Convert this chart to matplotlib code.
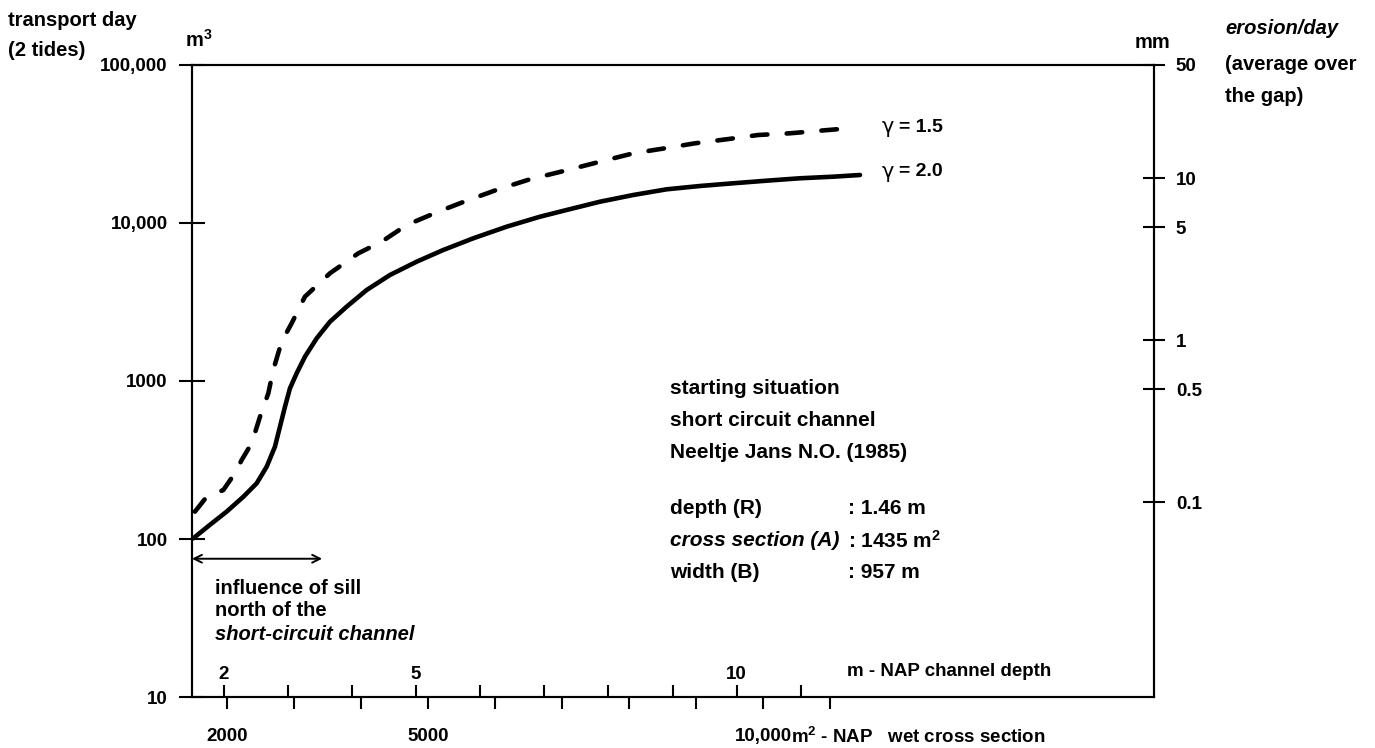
import matplotlib
matplotlib.use("Agg")
import matplotlib.pyplot as plt
from matplotlib.ticker import NullLocator

# ---------------- data ----------------
# wet cross section (m2 - NAP) and transport per day (m3, 2 tides)
area_gamma20 = [1497, 1746, 1995, 2244, 2443, 2593, 2716, 2791, 2866, 2940, 3040,
                3164, 3339, 3537, 3786, 4085, 4433, 4831, 5229, 5676, 6175, 6672,
                7070, 7567, 8064, 8562, 9060, 9557, 10055, 10552, 11049, 11448]
transport_gamma20 = [101, 123, 149, 185, 225, 287, 384, 514, 688, 899, 1119,
                     1426, 1862, 2372, 2953, 3767, 4688, 5690, 6750, 8000, 9480, 10960,
                     12090, 13640, 15040, 16340, 17150, 17840, 18530, 19190, 19640, 20130]

area_gamma15 = [1522, 1697, 1945, 2119, 2219, 2368, 2493, 2617, 2691, 2816, 2965,
                3164, 3537, 3960, 4309, 4682, 5154, 5578, 6049, 6522, 7045, 7567,
                8064, 8537, 8985, 9458, 9930, 10403, 10851, 11380]
transport_gamma15 = [149, 185, 204, 261, 316, 403, 594, 836, 1175, 1774, 2317,
                     3420, 4806, 6430, 7620, 9710, 11800, 13840, 16340, 18910, 21430, 24430,
                     27610, 29710, 31950, 33880, 36060, 36960, 38390, 40100]

left_ticks = [10, 100, 1000, 10000, 100000]
left_labels = ["10", "100", "1000", "10,000", "100,000"]
right_ticks = [0.1, 0.5, 1, 5, 10, 50]
right_labels = ["0.1", "0.5", "1", "5", "10", "50"]
area_ticks = [2000, 5000, 10000]
area_labels = ["2000", "5000", "10,000"]
area_minor = [3000, 4000, 6000, 7000, 8000, 9000, 11000]
depth_ticks = [2, 5, 10]
depth_labels = ["2", "5", "10"]
depth_minor = [3, 4, 6, 7, 8, 9, 11]

start_depth = 1.46    # m
start_area = 1435.0   # m2
channel_width = 957.0 # m

# ---------------- style ----------------
plt.rcParams["font.family"] = ["Liberation Sans", "DejaVu Sans"]
plt.rcParams["font.weight"] = "bold"
plt.rcParams["mathtext.fontset"] = "custom"
plt.rcParams["mathtext.rm"] = "Liberation Sans:bold"
plt.rcParams["mathtext.it"] = "Liberation Sans:italic:bold"
plt.rcParams["mathtext.bf"] = "Liberation Sans:bold"

W, H = 1375, 748
fig = plt.figure(figsize=(W / 100, H / 100), dpi=100)
L, R, T, B = 192, 1154, 65, 697
ax = fig.add_axes([L / W, 1 - B / H, (R - L) / W, (B - T) / H])


def P(x, y):
    return x / W, 1 - y / H


FS = 13.5
LW_SPINE = 1.5

ax.set_yscale("log")
ax.set_xlim(1478, 15836)
ax.set_ylim(10, 100000)

ax.plot(area_gamma20, transport_gamma20, color="black", lw=3.3,
        solid_capstyle="round", solid_joinstyle="round")
ax.plot(area_gamma15, transport_gamma15, color="black", lw=3.3,
        dashes=(3.4, 4.2), dash_capstyle="round", dash_joinstyle="round")

for s in ax.spines.values():
    s.set_linewidth(LW_SPINE)

# left axis
ax.set_yticks(left_ticks, labels=left_labels)
ax.yaxis.set_minor_locator(NullLocator())
ax.tick_params(axis="y", direction="inout", length=19, width=1.5, pad=8,
               labelsize=FS)

# bottom axis: wet cross section
ax.set_xticks(area_ticks, labels=area_labels)
ax.set_xticks(area_minor, minor=True)
ax.tick_params(axis="x", which="both", direction="out", length=8.5, width=1.5,
               pad=14, labelsize=FS)


# depth axis on the same line, ticks pointing inward, labels inside
def area_to_depth(a):
    return start_depth + (a - start_area) / channel_width


def depth_to_area(d):
    return start_area + (d - start_depth) * channel_width


sec = ax.secondary_xaxis("bottom", functions=(area_to_depth, depth_to_area))
sec.set_xticks(depth_ticks, labels=depth_labels)
sec.set_xticks(depth_minor, minor=True)
sec.tick_params(axis="x", which="both", direction="in", length=8.5, width=1.5,
                pad=-22, labelsize=FS)
sec.spines["bottom"].set_visible(False)

# right axis: erosion per day
ax2 = ax.twinx()
ax2.set_yscale("log")
ax2.set_ylim(0.00628, 50)
ax2.set_yticks(right_ticks, labels=right_labels)
ax2.yaxis.set_minor_locator(NullLocator())
ax2.tick_params(axis="y", direction="inout", length=16.5, width=1.5, pad=7.5,
                labelsize=FS)
for s in ax2.spines.values():
    s.set_linewidth(LW_SPINE)

# arrow: influence of sill
ax.annotate("", xy=(3420, 75), xytext=(1478, 75),
            arrowprops=dict(arrowstyle="<->", lw=1.4, color="black",
                            mutation_scale=14, shrinkA=0, shrinkB=0))


# ---------------- texts ----------------
def t(x, y, s, **kw):
    kw.setdefault("fontsize", FS)
    kw.setdefault("va", "center")
    kw.setdefault("ha", "left")
    fig.text(*P(x, y), s, **kw)


t(8, 20, "transport day", fontsize=14.5)
t(8, 50, "(2 tides)", fontsize=14.5)
t(185, 40, "m$^{\\mathrm{3}}$", fontsize=14.5)
t(1135, 43, "mm", fontsize=14.5)
t(1225, 28, "erosion/day", fontsize=14.5, style="italic")
t(1225, 65, "(average over", fontsize=14.5)
t(1225, 97, "the gap)", fontsize=14.5)

t(882, 127, "\u03b3", fontsize=15, family="DejaVu Sans", weight="normal")
t(899, 127, "= 1.5", fontsize=14)
t(882, 172, "\u03b3", fontsize=15, family="DejaVu Sans", weight="normal")
t(899, 172, "= 2.0", fontsize=14)

BF = 15
t(670, 388, "starting situation", fontsize=BF)
t(670, 420, "short circuit channel", fontsize=BF)
t(670, 453, "Neeltje Jans N.O. (1985)", fontsize=BF)
t(670, 508, "depth (R)", fontsize=BF)
t(848, 508, ": 1.46 m", fontsize=BF)
t(670, 541, "cross section (A)", fontsize=BF, style="italic")
t(848, 541, ": 1435 m$^{\\mathrm{2}}$", fontsize=BF)
t(670, 573, "width (B)", fontsize=BF)
t(848, 573, ": 957 m", fontsize=BF)

t(215, 588, "influence of sill", fontsize=14.5)
t(215, 611, "north of the", fontsize=14.5)
t(215, 635, "short-circuit channel", fontsize=14.5, style="italic")

t(847, 672, "m - NAP channel depth", fontsize=FS)
ax.annotate("m$^{\\mathrm{2}}$ - NAP   wet cross section", xy=(10000, 0),
            xycoords=("data", "axes fraction"), xytext=(20, -28.5),
            textcoords="offset points", ha="left", va="center", fontsize=FS)

fig.savefig("out.png", dpi=100)
